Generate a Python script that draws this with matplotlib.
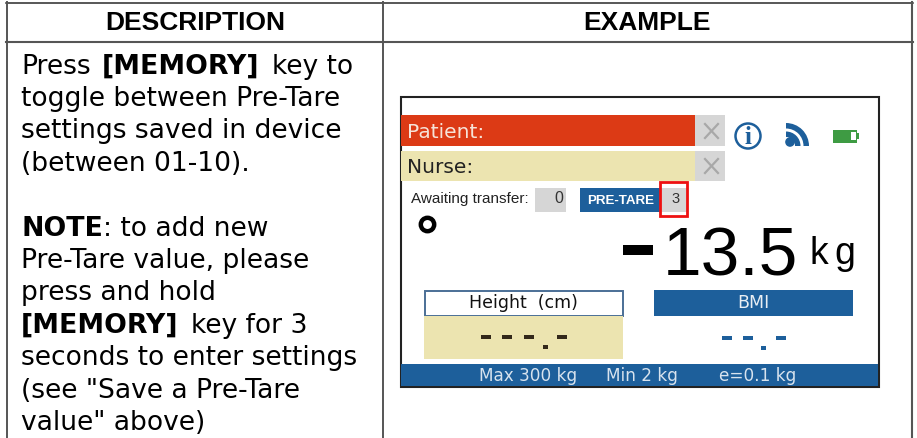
import matplotlib
matplotlib.use("Agg")
import matplotlib.pyplot as plt
from matplotlib.patches import Rectangle, Circle, Wedge

headers = ["DESCRIPTION", "EXAMPLE"]
body_runs = [
    (73.5, [("Press", False, 21), ("[MEMORY]", True, 102), ("key to", False, 272)]),
    (106, [("toggle between Pre-Tare", False, 21)]),
    (138.5, [("settings saved in device", False, 21)]),
    (171, [("(between 01-10).", False, 21)]),
    (236, [("NOTE", True, 21), (": to add new", False, 103)]),
    (268, [("Pre-Tare value, please", False, 21)]),
    (300.5, [("press and hold", False, 21)]),
    (333, [("[MEMORY]", True, 21), ("key for 3", False, 191)]),
    (365, [("seconds to enter settings", False, 21)]),
    (398, [('(see "Save a Pre-Tare', False, 21)]),
    (430, [('value" above)', False, 21)]),
]
RED = "#dc3a15"; CREAM = "#ece4b0"; BLUE = "#1d5f9b"; GREY = "#d6d6d6"

fig = plt.figure(figsize=(9.17, 4.38), dpi=100)
ax = fig.add_axes([0, 0, 1, 1])
ax.set_xlim(0, 917); ax.set_ylim(438, 0); ax.axis("off")

def rect(x, y, w, h, fc="none", ec="none", lw=0, z=2):
    ax.add_patch(Rectangle((x, y), w, h, facecolor=fc, edgecolor=ec, linewidth=lw, zorder=z))

def txt(x, y, s, size, color="black", weight="normal", ha="left", fam="Liberation Sans", va="center"):
    ax.text(x, y, s, fontsize=size, color=color, fontweight=weight, ha=ha, va=va,
            family=fam, zorder=5)

# table rules
ax.plot([6, 913], [2.5, 2.5], color="#2a2a2a", lw=1.1)
ax.plot([6, 913], [42, 42], color="#555555", lw=1.5)
ax.plot([6.5, 6.5], [2, 438], color="#555555", lw=1.4)
ax.plot([382.5, 382.5], [2, 438], color="#555555", lw=1.4)
ax.plot([912, 912], [2, 438], color="#555555", lw=1.5)

txt(195, 23, headers[0], 19, weight="bold", ha="center")
txt(647, 23, headers[1], 19, weight="bold", ha="center")

for y, runs in body_runs:
    for s, bold, x in runs:
        txt(x, y, s, 19.3 if bold else 19.05, weight="bold" if bold else "normal",
            fam="DejaVu Sans", va="baseline")

# device screen
rect(400.5, 96.5, 478, 290, fc="white", ec="#222222", lw=1.5, z=1)
rect(401, 115, 294, 31, fc=RED)
rect(695, 115, 30, 31, fc=GREY)
rect(401, 151, 294, 30, fc=CREAM)
rect(695, 151, 30, 30, fc=GREY)
txt(407, 138, "Patient:", 14.5, color="#f6e3d8", fam="DejaVu Sans", va="baseline")
txt(407, 173, "Nurse:", 14.5, color="#222222", fam="DejaVu Sans", va="baseline")
for cy in (131, 166):
    ax.plot([705, 718], [cy - 7, cy + 7], color="#a8a8a8", lw=1.6, zorder=4)
    ax.plot([705, 718], [cy + 7, cy - 7], color="#a8a8a8", lw=1.6, zorder=4)

# icons
ax.add_patch(Circle((748, 136), 12.5, fc="white", ec=BLUE, lw=1.8, zorder=3))
txt(748, 144, "i", 18, color=BLUE, weight="bold", ha="center", fam="Liberation Serif", va="baseline")
ax.add_patch(Circle((790, 142), 4.8, fc=BLUE, ec="none", zorder=3))
for r, wd in ((14.5, 5.5), (23, 5.5)):
    ax.add_patch(Wedge((786, 146), r, 270, 360, width=wd, fc=BLUE, ec="none", zorder=3))
rect(833, 129.5, 24, 13, fc="#3e9b43")
rect(851, 132, 5, 8, fc="white", z=3)
rect(857, 133, 2, 6, fc="#3e9b43")

# status row
txt(411, 203.5, "Awaiting transfer:", 11, color="#222222", va="baseline")
rect(535, 188, 31, 24, fc=GREY)
txt(563, 203, "0", 11.5, color="#333333", ha="right", va="baseline")
rect(580, 188, 80, 24, fc=BLUE)
txt(621, 204.5, "PRE-TARE", 9.6, color="white", weight="bold", ha="center", va="baseline")
rect(660, 188, 27, 24, fc=GREY)
txt(676, 203, "3", 10.5, color="#333333", ha="center", va="baseline")
rect(660, 182, 27, 34, ec="#ee1111", lw=2, z=4)
ax.add_patch(Circle((427.5, 224.5), 6.7, fc="none", ec="black", lw=3.2, zorder=4))

# weight
rect(623, 245, 30, 10, fc="black", z=4)
txt(663, 275, "13.5", 50, va="baseline")
txt(809, 264, "k", 27, va="baseline")
txt(834, 264, "g", 27, va="baseline")

# height / BMI
rect(424.5, 291, 198, 25, fc="white", ec="#4b6f96", lw=1.4)
txt(523, 308, "Height  (cm)", 12.5, ha="center", fam="DejaVu Sans", color="#111111", va="baseline")
rect(424, 316, 199, 43, fc=CREAM)
rect(654, 290, 199, 26, fc=BLUE)
txt(753, 308, "BMI", 12.5, color="#e8eef4", ha="center", fam="DejaVu Sans", va="baseline")
for x0 in (481, 502, 524, 557):
    rect(x0, 335, 10, 3.5, fc="#33291a", z=3)
rect(543, 345, 5, 4, fc="#33291a", z=3)
for x0 in (722, 743, 776):
    rect(x0, 336, 10, 3.5, fc=BLUE, z=3)
rect(761, 346, 5, 4, fc=BLUE, z=3)

# footer
rect(401, 364, 477, 22, fc=BLUE)
txt(479, 381, "Max 300 kg", 12.2, color="#d8e3ee", fam="DejaVu Sans", va="baseline")
txt(606, 381, "Min 2 kg", 12.2, color="#d8e3ee", fam="DejaVu Sans", va="baseline")
txt(719, 381, "e=0.1 kg", 12.2, color="#d8e3ee", fam="DejaVu Sans", va="baseline")

fig.savefig("out.png", dpi=100, facecolor="white")
